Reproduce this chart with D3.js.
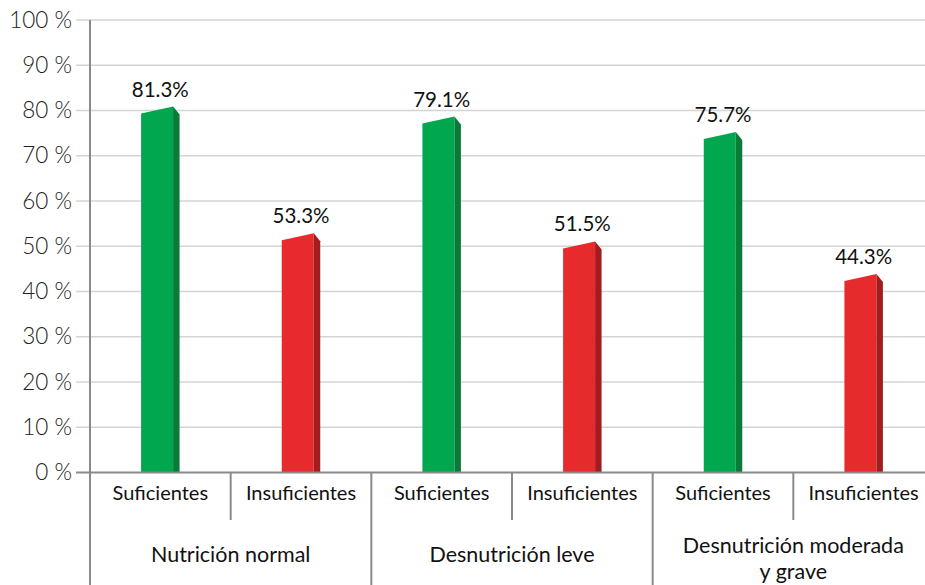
<!DOCTYPE html>
<html>
<head>
<meta charset="utf-8">
<script src="https://cdn.jsdelivr.net/npm/d3@7"></script>
<style>
  html, body { margin: 0; padding: 0; background: #fff; }
  svg { display: block; font-family: "Lato", "Open Sans", sans-serif; }
</style>
</head>
<body>
<svg id="chart" width="925" height="585"></svg>
<script>
const groups = ["Nutrición normal", "Desnutrición leve", "Desnutrición moderada|y grave"];
const subCategories = ["Suficientes", "Insuficientes"];
const suficientes = [81.3, 79.1, 75.7];
const insuficientes = [53.3, 51.5, 44.3];
const yTicks = [0, 10, 20, 30, 40, 50, 60, 70, 80, 90, 100];

const data = [];
groups.forEach((g, i) => {
  data.push({ group: g, sub: "Suficientes", value: suficientes[i] });
  data.push({ group: g, sub: "Insuficientes", value: insuficientes[i] });
});

const svg = d3.select("#chart");
const x0 = 90, x1 = 934, yBase = 472.5, yTop = 20;

const y = d3.scaleLinear().domain([0, 100]).range([yBase, yTop]);
const xGroup = d3.scaleBand().domain(groups).range([x0, x1]).padding(0);
const xSub = d3.scaleBand().domain(subCategories).range([0, xGroup.bandwidth()]).padding(0);

const colors = {
  Suficientes: { front: "#00a74f", side: "#0a7a38" },
  Insuficientes: { front: "#e72b2c", side: "#a21d1f" }
};

// gridlines
svg.append("g").selectAll("line").data(yTicks.filter(d => d > 0)).join("line")
  .attr("x1", 76).attr("x2", 925)
  .attr("y1", d => y(d)).attr("y2", d => y(d))
  .attr("stroke", "#d4d4d4").attr("stroke-width", 1.6);

// y tick labels
svg.append("g").selectAll("text").data(yTicks).join("text")
  .attr("x", 72).attr("y", d => y(d) + 7.5)
  .attr("text-anchor", "end")
  .attr("font-size", 22.5).attr("font-weight", 300)
  .attr("fill", "#222")
  .text(d => d + " %");

// bars
const frontW = 32, sideW = 6.5, slant = 7, sideDrop = 8;
const bars = svg.append("g").selectAll("g").data(data).join("g");
bars.each(function(d) {
  const g = d3.select(this);
  const cx = xGroup(d.group) + xSub(d.sub) + xSub.bandwidth() / 2;
  const left = cx - (frontW + sideW) / 2;
  const right = left + frontW;
  const peak = y(d.value) + 2;
  g.append("path")
    .attr("d", `M${left},${yBase} L${left},${peak + slant} L${right},${peak} L${right},${yBase} Z`)
    .attr("fill", colors[d.sub].front);
  g.append("path")
    .attr("d", `M${right},${yBase} L${right},${peak} L${right + sideW},${peak + sideDrop} L${right + sideW},${yBase} Z`)
    .attr("fill", colors[d.sub].side);
  g.append("text")
    .attr("x", cx).attr("y", peak - 10)
    .attr("text-anchor", "middle")
    .attr("font-size", 20.5)
    .attr("fill", "#111")
    .text(d.value.toFixed(1) + "%");
});

// axes lines
svg.append("line").attr("x1", 76).attr("x2", 925).attr("y1", yBase).attr("y2", yBase)
  .attr("stroke", "#8a8a8a").attr("stroke-width", 2);
svg.append("line").attr("x1", x0).attr("x2", x0).attr("y1", yTop).attr("y2", 585)
  .attr("stroke", "#8a8a8a").attr("stroke-width", 2);

// group dividers
svg.append("g").selectAll("line").data(groups.slice(1)).join("line")
  .attr("x1", d => xGroup(d)).attr("x2", d => xGroup(d))
  .attr("y1", yBase).attr("y2", 585)
  .attr("stroke", "#8a8a8a").attr("stroke-width", 2);
// sub dividers
svg.append("g").selectAll("line").data(groups).join("line")
  .attr("x1", d => xGroup(d) + xSub("Insuficientes")).attr("x2", d => xGroup(d) + xSub("Insuficientes"))
  .attr("y1", yBase).attr("y2", 520)
  .attr("stroke", "#8a8a8a").attr("stroke-width", 2);

// sub labels
groups.forEach(gName => {
  subCategories.forEach(s => {
    svg.append("text")
      .attr("x", xGroup(gName) + xSub(s) + xSub.bandwidth() / 2)
      .attr("y", 500)
      .attr("text-anchor", "middle")
      .attr("font-size", 20)
      .attr("fill", "#111")
      .text(s);
  });
});

// group labels
groups.forEach(gName => {
  const lines = gName.split("|");
  const cx = xGroup(gName) + xGroup.bandwidth() / 2;
  const startY = lines.length === 1 ? 562 : 553;
  lines.forEach((ln, i) => {
    svg.append("text")
      .attr("x", cx).attr("y", startY + i * 26)
      .attr("text-anchor", "middle")
      .attr("font-size", 21.5)
      .attr("fill", "#111")
      .text(ln);
  });
});
</script>
</body>
</html>
